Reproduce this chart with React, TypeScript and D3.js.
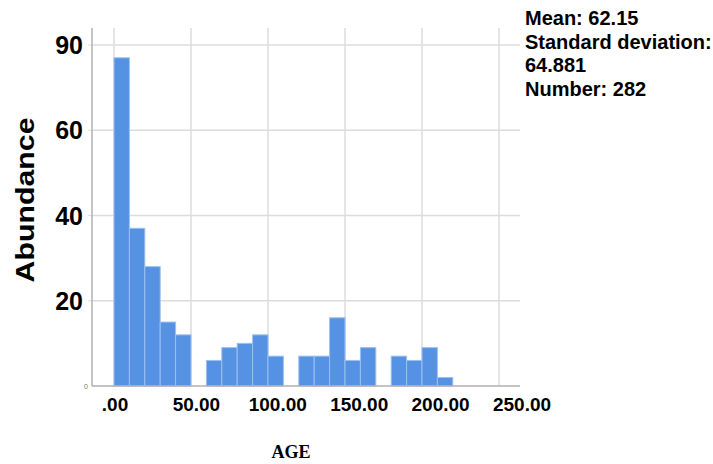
import * as React from 'react';
import * as d3 from 'd3';

// histogram of AGE, bins of 10
const binStarts = [0, 10, 20, 30, 40, 50, 60, 70, 80, 90, 100, 110, 120, 130, 140, 150, 160, 170, 180, 190, 200, 210];
const counts = [77, 37, 28, 15, 12, 0, 6, 9, 10, 12, 7, 0, 7, 7, 16, 6, 9, 0, 7, 6, 9, 2];
const binWidth = 10;

const xTicks = [0, 50, 100, 150, 200, 250];
const xTickLabels = ['.00', '50.00', '100.00', '150.00', '200.00', '250.00'];
const yTicks = [20, 40, 60, 80];
const yTickLabels = ['20', '40', '60', '90'];

const statLines = ['Mean: 62.15', 'Standard deviation:', '64.881', 'Number: 282'];

const W = 713;
const H = 464;
const frame = { left: 92, right: 520, top: 28, bottom: 386 };

const x = d3.scaleLinear().domain([0, 250]).range([114, 499]);
const xLabel = d3.scaleLinear().domain([0, 250]).range([115, 522]);
const y = d3.scaleLinear().domain([0, 80]).range([frame.bottom, 45]);

const App: React.FC = () => {
  const bold = "'Liberation Sans', Arial, sans-serif";
  return (
    <svg
      width={W}
      height={H}
      style={{ position: 'absolute', left: 0, top: 0, background: '#fff' }}
    >
      {/* grid */}
      {yTicks.map((t) => (
        <line
          key={'hy' + t}
          x1={frame.left}
          x2={frame.right}
          y1={y(t)}
          y2={y(t)}
          stroke="#dcdcdc"
          strokeWidth={1.5}
        />
      ))}
      {xTicks.map((t) => (
        <line
          key={'vx' + t}
          x1={x(t)}
          x2={x(t)}
          y1={frame.top}
          y2={frame.bottom}
          stroke="#dcdcdc"
          strokeWidth={1.5}
        />
      ))}
      {/* y tick marks */}
      {yTicks.map((t) => (
        <line key={'tk' + t} x1={frame.left - 4} x2={frame.left} y1={y(t)} y2={y(t)} stroke="#e0e0e0" />
      ))}

      {/* bars */}
      {counts.map((c, i) =>
        c > 0 ? (
          <rect
            key={i}
            x={x(binStarts[i])}
            y={y(c)}
            width={x(binStarts[i] + binWidth) - x(binStarts[i])}
            height={y(0) - y(c)}
            fill="#5592e3"
            stroke="#9cc0f0"
            strokeWidth={1}
          />
        ) : null
      )}

      {/* axes */}
      <line x1={frame.left} x2={frame.left} y1={frame.top} y2={frame.bottom} stroke="#b0b0b0" strokeWidth={1.5} />
      <line x1={frame.left} x2={frame.right} y1={frame.bottom} y2={frame.bottom} stroke="#b0b0b0" strokeWidth={1.5} />

      {/* y labels */}
      {yTicks.map((t, i) => (
        <text
          key={'yl' + t}
          x={83}
          y={y(t)}
          dy="0.36em"
          textAnchor="end"
          fontFamily={bold}
          fontWeight="bold"
          fontSize={25}
          fill="#000"
        >
          {yTickLabels[i]}
        </text>
      ))}
      <text x={86} y={y(0)} dy="0.36em" textAnchor="middle" fontFamily={bold} fontSize={7} fill="#777">
        0
      </text>

      {/* x labels */}
      {xTicks.map((t, i) => (
        <text
          key={'xl' + t}
          x={xLabel(t)}
          y={411}
          textAnchor="middle"
          fontFamily={bold}
          fontWeight="bold"
          fontSize={19}
          fill="#000"
        >
          {xTickLabels[i]}
        </text>
      ))}

      {/* axis titles */}
      <text
        transform={`translate(34, 200) rotate(-90)`}
        textAnchor="middle"
        fontFamily={bold}
        fontWeight="bold"
        fontSize={26}
        textLength={165}
        lengthAdjust="spacingAndGlyphs"
        fill="#000"
      >
        Abundance
      </text>
      <text
        x={291}
        y={458}
        textAnchor="middle"
        fontFamily="'Liberation Serif', 'Times New Roman', serif"
        fontWeight="bold"
        fontSize={18}
        fill="#000"
      >
        AGE
      </text>

      {/* stats */}
      {statLines.map((s, i) => (
        <text
          key={s}
          x={525}
          y={25 + i * 23.5}
          fontFamily={bold}
          fontWeight="bold"
          fontSize={20}
          fill="#000"
        >
          {s}
        </text>
      ))}
    </svg>
  );
};

export default App;
